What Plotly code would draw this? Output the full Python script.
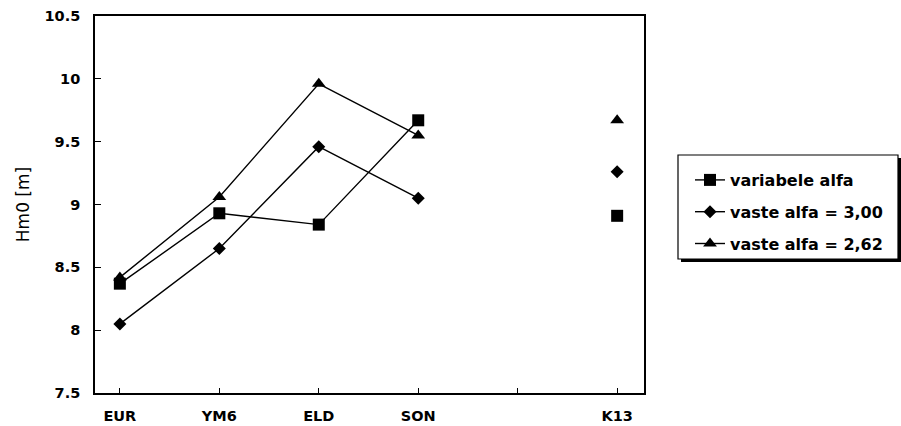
import plotly.graph_objects as go

categories = ["EUR", "YM6", "ELD", "SON", " ", "K13"]
variabele_alfa = [8.37, 8.93, 8.84, 9.67, None, 8.91]
vaste_alfa_300 = [8.05, 8.65, 9.46, 9.05, None, 9.26]
vaste_alfa_262 = [8.42, 9.06, 9.96, 9.55, None, 9.67]

series = [
    ("variabele alfa", variabele_alfa, "square", 12),
    ("vaste alfa = 3,00", vaste_alfa_300, "diamond", 10),
    ("vaste alfa = 2,62", vaste_alfa_262, "triangle-up", 12),
]

FONT = "DejaVu Sans"

fig = go.Figure()
for i, (name, vals, sym, sz) in enumerate(series):
    fig.add_trace(go.Scatter(
        x=categories, y=vals, name=name, mode="lines+markers",
        connectgaps=False, legendgroup=f"g{i}",
        line=dict(color="black", width=1.4),
        marker=dict(symbol=sym, size=sz, color="black"),
    ))

W, H = 901, 426
L, R, T, B = 95, 644, 16, 393

def px_x(p):
    return (p - L) / (R - L)

def px_y(p):
    return (B - p) / (B - T)

# legend box with shadow
fig.add_shape(type="rect", xref="paper", yref="paper",
              x0=px_x(681), x1=px_x(901), y0=px_y(262), y1=px_y(158),
              fillcolor="black", line=dict(width=0))
fig.add_shape(type="rect", xref="paper", yref="paper",
              x0=px_x(678), x1=px_x(898), y0=px_y(259), y1=px_y(155),
              fillcolor="white", line=dict(color="black", width=1.2))

fig.update_layout(
    width=W, height=H,
    margin=dict(l=L, r=W - R, t=T, b=H - B, autoexpand=False),
    paper_bgcolor="white", plot_bgcolor="white",
    font=dict(family=FONT, size=14.5, color="black", weight="bold"),
    showlegend=True,
    legend=dict(
        x=px_x(690), y=px_y(163), xanchor="left", yanchor="top",
        bgcolor="rgba(0,0,0,0)", borderwidth=0,
        font=dict(family=FONT, size=16, color="black", weight="bold"),
        tracegroupgap=8, traceorder="grouped",
    ),
    xaxis=dict(
        type="category", categoryorder="array", categoryarray=categories,
        range=[-0.25, 5.27], showline=True, mirror=True, linecolor="black",
        linewidth=1.6, ticks="inside", ticklen=5, tickcolor="black",
        showgrid=False, zeroline=False, ticklabelstandoff=9,
        tickfont=dict(family=FONT, size=14.5, weight="bold"),
    ),
    yaxis=dict(
        range=[7.5, 10.5], dtick=0.5, tick0=7.5, showline=True, mirror=True,
        linecolor="black", linewidth=1.6, ticks="inside", ticklen=6,
        tickcolor="black", showgrid=False, zeroline=False,
        ticklabelstandoff=10, tickfont=dict(family=FONT, size=14.5, weight="bold"),
        title=dict(text="Hm0 [m]", font=dict(family=FONT, size=17, weight="normal"),
                   standoff=11),
    ),
)

fig.write_html("out.html")
